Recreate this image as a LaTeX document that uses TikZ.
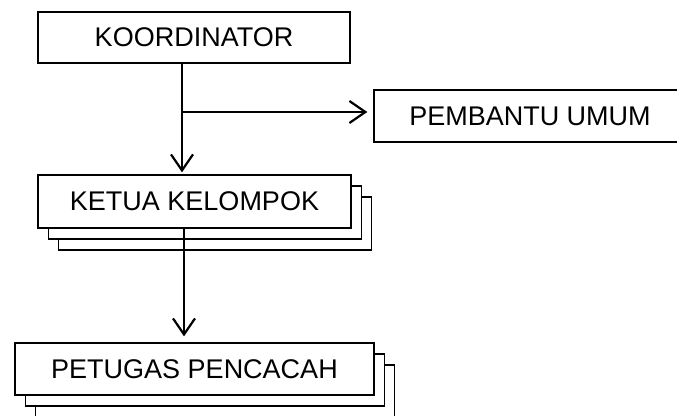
\documentclass[tikz,border=0pt]{standalone}
\usepackage{fontspec}
\setmainfont{Liberation Sans}
\usetikzlibrary{positioning,arrows.meta,shadows}

\tikzset{
  box/.style={draw, line width=1.3pt, fill=white, inner sep=0pt,
    font=\fontsize{27}{31}\selectfont},
  stackbox/.style={box,
    copy shadow={shadow xshift=20.5pt, shadow yshift=-22pt, draw=black, fill=white, line width=1.3pt},
    copy shadow={shadow xshift=10.5pt, shadow yshift=-11pt, draw=black, fill=white, line width=1.3pt}},
  link/.style={line width=2.2pt,
    -{Straight Barb[length=16pt,width=22pt,line width=2.2pt]}},
}

\begin{document}
\begin{tikzpicture}[x=1pt, y=-1pt]

    % cadre de la page (1 unité = 1 px)
    \useasboundingbox (0,0) rectangle (677,415);

    % =========================================================================
    % BOÎTES
    % =========================================================================

    \node[box, minimum width=312pt, minimum height=51pt] (koor) at (194,37.5) {KOORDINATOR};
    \node[box, minimum width=312pt, minimum height=52pt] (pembantu) at (530,116) {PEMBANTU UMUM};

    % boîtes empilées (plusieurs personnes)
    \node[stackbox, minimum width=313pt, minimum height=53pt] (ketua) at (194.5,201.5) {KETUA KELOMPOK};
    \node[stackbox, minimum width=359pt, minimum height=52pt] (petugas) at (194.5,369) {PETUGAS PENCACAH};

    % =========================================================================
    % LIAISONS
    % =========================================================================

    \coordinate (axisA) at (182,0);
    \coordinate (axisB) at (184,0);
    \coordinate (split) at (182,112);

    \draw[link, shorten >=2pt] (koor.south -| axisA) -- (ketua.north -| axisA);
    \draw[link, shorten >=6pt] (split) -- (split -| pembantu.west);
    \draw[link, shorten >=6pt] (ketua.south -| axisB) -- (petugas.north -| axisB);

\end{tikzpicture}
\end{document}
